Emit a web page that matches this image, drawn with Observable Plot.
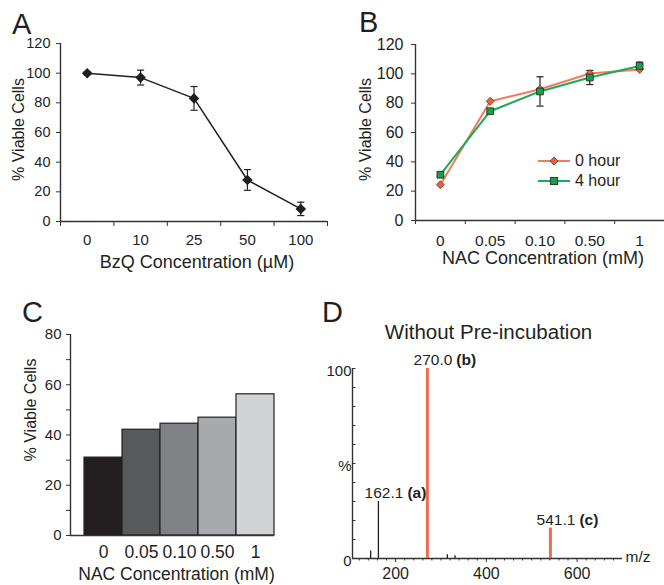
<!DOCTYPE html>
<html><head><meta charset="utf-8">
<script src="https://cdn.jsdelivr.net/npm/d3@7"></script>
<script src="https://cdn.jsdelivr.net/npm/@observablehq/plot@0.6"></script>
<style>
body{margin:0;background:#fff;}
#fig{position:relative;width:664px;height:585px;overflow:hidden;font-family:"Liberation Sans",Arial,sans-serif;color:#231f20;background:#fff;}
.panel{position:absolute;}
.panel svg{overflow:visible;}
.letter{position:absolute;font-size:29px;line-height:1;}
.leg{position:absolute;font-size:16px;}
.leg .row{display:flex;align-items:center;height:20px;}
.leg .row span{margin-left:5px;}
</style></head><body><div id="fig"></div>
<script>
const FONT = '"Liberation Sans", Arial, sans-serif';
const INK = "#231f20";
const AXIS = "#333333";

// ---- Panel A ----
const aLabels = ["0", "10", "25", "50", "100"];
const aValues = [100, 97, 83, 28, 8.5];
const aErrors = [1, 5, 8, 7, 4.5];
const aXTitle = "BzQ Concentration (µM)";
const aYTicks = [0, 20, 40, 60, 80, 100, 120];

// ---- Panel B ----
const bLabels = ["0", "0.05", "0.10", "0.50", "1"];
const bSeries = ["0 hour", "4 hour"];
const b0Values = [24.4, 81.3, 89.5, 100.2, 103];
const b4Values = [31.2, 74.5, 88, 97.5, 105.4];
const b4Errors = [1.5, 0, 10, 4.8, 2.6];
const bXTitle = "NAC Concentration (mM)";
const bYTicks = [0, 20, 40, 60, 80, 100, 120];

// ---- Panel C ----
const cLabels = ["0", "0.05", "0.10", "0.50", "1"];
const cValues = [31.0, 42.1, 44.5, 46.9, 56.2];
const cFills = ["#231f20", "#58595b", "#808285", "#a7a9ac", "#d1d3d4"];
const cXTitle = "NAC Concentration (mM)";
const cYTicks = [0, 20, 40, 60, 80];
const cYMinor = [10, 30, 50, 70];

// ---- Panel D ----
const dTitle = "Without Pre-incubation";
const dPeakMz = [145, 162.1, 270.0, 314, 331, 541.1];
const dPeakInt = [4, 30, 100, 2, 1.5, 16];
const dPeakHighlight = [false, false, true, false, false, true];
const dPeakLabel = ["", "162.1", "270.0", "", "", "541.1"];
const dPeakTag = ["", "(a)", "(b)", "", "", "(c)"];
const dXTicks = [200, 400, 600];
const dYTicks = [0, 50, 100];
const dYTickText = ["0", "%", "100"];
const dXUnit = "m/z";

const yTitle = "% Viable Cells";
const ORANGE_LINE = "#f47a5c", ORANGE_FILL = "#ec5f3c";
const GREEN_LINE = "#1ea85a", GREEN_FILL = "#1b9e4b";
const PEAK_ORANGE = "#f26a50";

const cap = {draw(ctx, size) { const w = Math.sqrt(size); ctx.moveTo(-w, 0); ctx.lineTo(w, 0); }};
const style = {fontFamily: FONT, color: INK, background: "none", overflow: "visible"};

const fig = document.getElementById("fig");
function place(node, left, top) {
  const d = document.createElement("div");
  d.className = "panel"; d.style.left = left + "px"; d.style.top = top + "px";
  d.appendChild(node); fig.appendChild(d);
}
function letter(t, left, top) {
  const d = document.createElement("div");
  d.className = "letter"; d.textContent = t;
  d.style.left = left + "px"; d.style.top = top + "px";
  fig.appendChild(d);
}
const bounds = (n) => d3.range(n + 1).map(k => k - 0.5);
const xTitleOpts = (dy, dx, fs) => ({frameAnchor: "bottom", lineAnchor: "middle", textAnchor: "middle", dy, dx, fontSize: fs, fill: INK});
const yTitleOpts = (dx, dy) => ({frameAnchor: "left", rotate: -90, textAnchor: "middle", lineAnchor: "middle", dx, dy, fontSize: 16, fill: INK});

// ===== Panel A =====
const aData = aLabels.map((l, i) => ({i, v: aValues[i], e: aErrors[i]}));
const aDom = [-0.5, aLabels.length - 0.5];
place(Plot.plot({
  width: 332, height: 290, marginLeft: 60, marginRight: 5, marginTop: 43, marginBottom: 69,
  style,
  x: {type: "linear", domain: aDom, label: null},
  y: {domain: [0, 120], label: null},
  marks: [
    Plot.axisX(bounds(aLabels.length), {tickSize: 5, tickFormat: () => "", stroke: AXIS, label: null}),
    Plot.axisX(d3.range(aLabels.length), {tickSize: 0, tickPadding: 13, tickFormat: i => aLabels[i], fontSize: 15, label: null}),
    Plot.axisY(aYTicks, {tickSize: 4, tickPadding: 6, fontSize: 14.5, stroke: AXIS, label: null}),
    Plot.ruleX([aDom[0]], {stroke: AXIS, strokeWidth: 1.4}),
    Plot.ruleY([0], {stroke: AXIS, strokeWidth: 1.4}),
    Plot.line(aData, {x: "i", y: "v", stroke: INK, strokeWidth: 1.5}),
    Plot.ruleX(aData, {x: "i", y1: d => d.v - d.e, y2: d => d.v + d.e, stroke: INK, strokeWidth: 1.2}),
    Plot.dot(aData, {x: "i", y: d => d.v + d.e, symbol: cap, r: 2, stroke: INK, strokeWidth: 1.2}),
    Plot.dot(aData, {x: "i", y: d => d.v - d.e, symbol: cap, r: 2, stroke: INK, strokeWidth: 1.2}),
    Plot.dot(aData, {x: "i", y: "v", symbol: "diamond2", r: 3.8, fill: INK, stroke: INK}),
    Plot.text([aXTitle], xTitleOpts(41, 3, 18)),
    Plot.text([yTitle], yTitleOpts(-42, -3))
  ]
}), 0, 0);
letter("A", 12, 10);

// ===== Panel B =====
const bData = bLabels.flatMap((l, i) => [
  {i, series: bSeries[0], v: b0Values[i], e: 0},
  {i, series: bSeries[1], v: b4Values[i], e: b4Errors[i]}
]);
const bErr = bData.filter(d => d.e > 0);
const bDom = [-0.5, bLabels.length - 0.5];
place(Plot.plot({
  width: 332, height: 290, marginLeft: 83, marginRight: 0, marginTop: 44, marginBottom: 70,
  style,
  x: {type: "linear", domain: bDom, label: null},
  y: {domain: [0, 120], label: null},
  color: {domain: bSeries, range: [ORANGE_LINE, GREEN_LINE]},
  marks: [
    Plot.axisX(bounds(bLabels.length), {tickSize: 4, tickFormat: () => "", stroke: AXIS, label: null}),
    Plot.axisX(d3.range(bLabels.length), {tickSize: 0, tickPadding: 14, tickFormat: i => bLabels[i], fontSize: 15.5, label: null}),
    Plot.axisY(bYTicks, {tickSize: 4, tickPadding: 8, fontSize: 16, stroke: AXIS, label: null}),
    Plot.ruleX([bDom[0]], {stroke: AXIS, strokeWidth: 1.4}),
    Plot.ruleY([0], {stroke: AXIS, strokeWidth: 1.4}),
    Plot.line(bData, {x: "i", y: "v", z: "series", stroke: "series", strokeWidth: 2}),
    Plot.ruleX(bErr, {x: "i", y1: d => d.v - d.e, y2: d => d.v + d.e, stroke: INK, strokeWidth: 1.2}),
    Plot.dot(bErr, {x: "i", y: d => d.v + d.e, symbol: cap, r: 2, stroke: INK, strokeWidth: 1.2}),
    Plot.dot(bErr, {x: "i", y: d => d.v - d.e, symbol: cap, r: 2, stroke: INK, strokeWidth: 1.2}),
    Plot.dot(bData.filter(d => d.series === bSeries[0]), {x: "i", y: "v", symbol: "diamond2", r: 3.6, fill: ORANGE_FILL, stroke: "#6a3a2c", strokeWidth: 0.8}),
    Plot.dot(bData.filter(d => d.series === bSeries[1]), {x: "i", y: "v", symbol: "square2", r: 4.3, fill: GREEN_FILL, stroke: "#1f3326", strokeWidth: 0.9}),
    Plot.text([bXTitle], xTitleOpts(38, 3, 18)),
    Plot.text([yTitle], yTitleOpts(-50, -3))
  ]
}), 332, 0);
letter("B", 359, 8);

// legend B
(function () {
  const leg = document.createElement("div");
  leg.className = "leg"; leg.style.left = "538px"; leg.style.top = "151px";
  const specs = [
    {line: ORANGE_LINE, shape: `<polygon points="16,2 20,6 16,10 12,6" fill="${ORANGE_FILL}" stroke="#6a3a2c" stroke-width="0.8"/>`},
    {line: GREEN_LINE, shape: `<rect x="12.4" y="2.4" width="7.2" height="7.2" fill="${GREEN_FILL}" stroke="#1f3326" stroke-width="0.9"/>`}
  ];
  bSeries.forEach((s, k) => {
    const row = document.createElement("div"); row.className = "row";
    row.innerHTML = `<svg width="32" height="12"><line x1="0" y1="6" x2="32" y2="6" stroke="${specs[k].line}" stroke-width="2"/>${specs[k].shape}</svg><span>${s}</span>`;
    leg.appendChild(row);
  });
  fig.appendChild(leg);
})();

// ===== Panel C =====
const cData = cLabels.map((l, i) => ({i, v: cValues[i], fill: cFills[i]}));
const cDom = [-0.5 - 14 / 38, cLabels.length - 0.5];
place(Plot.plot({
  width: 332, height: 295, marginLeft: 70, marginRight: 58, marginTop: 44, marginBottom: 50,
  style,
  x: {type: "linear", domain: cDom, label: null},
  y: {domain: [0, 80], label: null},
  color: {type: "identity"},
  marks: [
    Plot.rectY(cData, {x1: d => d.i - 0.5, x2: d => d.i + 0.5, y1: 0, y2: "v", fill: "fill", stroke: INK, strokeWidth: 1.2}),
    Plot.axisX(d3.range(cLabels.length), {tickSize: 0, tickPadding: 10, tickFormat: i => cLabels[i], fontSize: 17.5, label: null}),
    Plot.axisY(cYTicks, {tickSize: 4, tickPadding: 5, fontSize: 15, stroke: AXIS, label: null}),
    Plot.axisY(cYMinor, {tickSize: 4, tickFormat: () => "", stroke: AXIS, label: null}),
    Plot.ruleX([cDom[0]], {stroke: AXIS, strokeWidth: 1.4}),
    Plot.ruleY([0], {stroke: AXIS, strokeWidth: 1.4}),
    Plot.text([cXTitle], xTitleOpts(39, 4, 17.5)),
    Plot.text([yTitle], yTitleOpts(-40, -25))
  ]
}), 0, 290);
letter("C", 22, 298);

// ===== Panel D =====
const dData = dPeakMz.map((m, k) => ({mz: m, v: dPeakInt[k], hi: dPeakHighlight[k], num: dPeakLabel[k], tag: dPeakTag[k]}));
const dLab = dData.filter(d => d.num);
const dDom = [105, 700];
const dMinor = d3.range(120, 700, 20).filter(v => !dXTicks.includes(v));
const dW = 364, dML = 52, dMR = 42;
place(Plot.plot({
  width: dW, height: 295, marginLeft: dML, marginRight: dMR, marginTop: 78, marginBottom: 27,
  style,
  x: {domain: dDom, label: null},
  y: {domain: [0, 100], label: null},
  marks: [
    Plot.axisX(dMinor, {tickSize: 2.5, tickFormat: () => "", stroke: AXIS, label: null}),
    Plot.axisX(dXTicks, {tickSize: 4, tickPadding: 5, fontSize: 16, stroke: AXIS, label: null}),
    Plot.tickY(d3.range(0, 101, 10), {y: d => d, insetRight: dW - dML - dMR - 3.5, stroke: AXIS, strokeWidth: 1}),
    Plot.axisY(dYTicks, {tickSize: 0, tickPadding: 1, dy: 3, tickFormat: (v) => dYTickText[dYTicks.indexOf(v)], fontSize: 15, label: null}),
    Plot.ruleX([dDom[0]], {stroke: AXIS, strokeWidth: 1.4}),
    Plot.ruleY([0], {stroke: AXIS, strokeWidth: 1.4}),
    Plot.ruleX(dData.filter(d => !d.hi), {x: "mz", y1: 0, y2: "v", stroke: INK, strokeWidth: 1.3}),
    Plot.ruleX(dData.filter(d => d.hi), {x: "mz", y1: 0, y2: "v", stroke: PEAK_ORANGE, strokeWidth: 3}),
    Plot.text(dLab, {x: "mz", y: "v", text: "num", textAnchor: "end", lineAnchor: "middle", dx: 25, dy: -8, fontSize: 15.5, fill: INK}),
    Plot.text(dLab, {x: "mz", y: "v", text: "tag", textAnchor: "start", lineAnchor: "middle", dx: 29, dy: -8, fontSize: 15.5, fontWeight: "bold", fill: INK}),
    Plot.text([dTitle], {frameAnchor: "top", textAnchor: "middle", lineAnchor: "middle", dy: -36, dx: 1, fontSize: 20.5, fill: INK}),
    Plot.text([dXUnit], {frameAnchor: "bottom-right", textAnchor: "start", lineAnchor: "middle", dx: 3, dy: -1, fontSize: 15.5, fill: INK})
  ]
}), 300, 290);
letter("D", 322, 298);
</script></body></html>
